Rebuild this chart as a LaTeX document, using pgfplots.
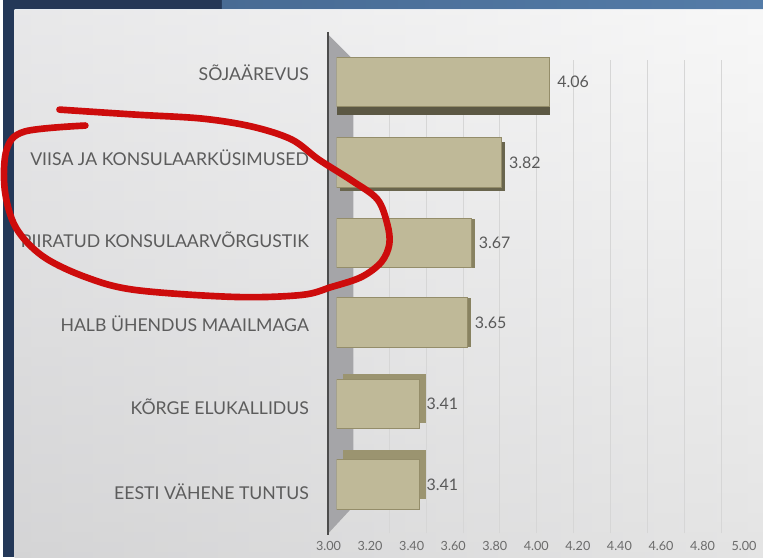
\documentclass[border=0pt]{standalone}
\usepackage{pgfplots}
\pgfplotsset{compat=1.18}
\usepackage{fontspec}
\setmainfont{Lato}
\definecolor{barfront}{RGB}{191,185,152}
\definecolor{barside}{RGB}{136,130,97}
\definecolor{bartop}{RGB}{155,148,112}
\definecolor{bardark}{RGB}{92,88,68}
\definecolor{baredge}{RGB}{148,141,106}
\definecolor{navy}{RGB}{36,56,88}
\definecolor{slateblue}{RGB}{84,124,168}
\definecolor{labelgray}{RGB}{92,92,92}
\definecolor{wallgray}{RGB}{165,165,168}
\definecolor{gridgray}{RGB}{214,214,214}
\definecolor{annored}{RGB}{205,12,12}
\begin{document}
\begin{tikzpicture}
\begin{scope}[x=0.75pt,y=-0.75pt]
\useasboundingbox (0,0) rectangle (763,559);
\fill[navy] (0,0) rectangle (763,559);
\shade[left color=slateblue!75!navy, right color=slateblue] (220,0) rectangle (763,10);
\shade[left color={rgb,255:red,220;green,220;blue,222}, right color={rgb,255:red,244;green,244;blue,244}] (12,10) rectangle (763,559);
\shade[top color=white, bottom color=black!22, opacity=0.35] (12,10) rectangle (763,559);
\draw[white!85!slateblue, line width=0.8pt] (12,10) -- (763,10);
\end{scope}

% back-plane grid
\begin{axis}[at={(263.25pt,-401.25pt)}, anchor=south west, scale only axis,
  width=277.5pt, height=356.25pt, xmin=3, xmax=5, ymin=0, ymax=1,
  xtick={3.2,3.4,3.6,3.8,4.0,4.2,4.4,4.6,4.8,5.0}, ytick=\empty, xticklabels={},
  xmajorgrids, major grid style={gridgray, line width=0.8pt},
  axis line style={draw=none}, tick style={draw=none}]
\end{axis}

\begin{scope}[x=0.75pt,y=-0.75pt]
\fill[wallgray] (327,35) -- (352,60) -- (352,508) -- (327,535) -- cycle;
\draw[black!70, line width=1.5pt] (326,32) -- (326,537);
\end{scope}

% tick labels
\begin{axis}[at={(245.25pt,-399.75pt)}, anchor=south west, scale only axis,
  width=312.75pt, height=50pt, xmin=3, xmax=5, ymin=0, ymax=1,
  xtick={3.0,3.2,3.4,3.6,3.8,4.0,4.2,4.4,4.6,4.8,5.0}, ytick=\empty,
  axis line style={draw=none}, tick style={draw=none},
  xticklabel={\pgfmathprintnumber[fixed,fixed zerofill,precision=2,assume math mode=true]{\tick}},
  xticklabel style={font=\fontsize{9.5}{11}\selectfont, text=black!58, yshift=-4.5pt}]
\end{axis}

% bars
\begin{axis}[at={(251.25pt,-399.6pt)}, anchor=south west, scale only axis,
  width=303pt, height=370.2pt, xmin=3, xmax=5, ymin=-0.6, ymax=5.6, y dir=reverse,
  xbar, bar width=37pt, bar shift=0pt,
  xtick=\empty,
  ytick={-0.176,0.892,1.935,2.99,4.03,5.10},
  yticklabels={SÕJAÄREVUS, VIISA JA KONSULAARKÜSIMUSED, PIIRATUD KONSULAARVÕRGUSTIK, HALB ÜHENDUS MAAILMAGA, KÕRGE ELUKALLIDUS, EESTI VÄHENE TUNTUS},
  yticklabel style={font=\fontsize{13.3}{15}\selectfont, text=labelgray, xshift=-13pt},
  axis line style={draw=none}, tick style={draw=none}]
\addplot[fill=bardark, draw=none, transform canvas={yshift=-6pt}] coordinates {(4.06,-0.057)};
\addplot[fill=bardark!70!barside, draw=none, transform canvas={xshift=2.25pt,yshift=-3pt}] coordinates {(3.82,0.955)};
\addplot[fill=barside, draw=none, transform canvas={xshift=3pt,yshift=-0.75pt}] coordinates {(3.67,1.966)};
\addplot[fill=barside, draw=none, transform canvas={xshift=3pt}] coordinates {(3.65,2.971)};
\addplot[fill=bartop, draw=none, transform canvas={xshift=5pt,yshift=4pt}] coordinates {(3.41,3.995)};
\addplot[fill=bartop, draw=none, transform canvas={xshift=5pt,yshift=7.5pt}] coordinates {(3.41,5.013)};
\addplot[fill=barfront, draw=baredge, line width=0.6pt,
  nodes near coords={\pgfmathprintnumber[fixed,fixed zerofill,precision=2,assume math mode=true]{\pgfplotspointmeta}},
  nodes near coords style={font=\fontsize{12}{14}\selectfont, text=black!65, anchor=west, xshift=2pt}]
  coordinates {(4.06,-0.057) (3.82,0.955) (3.67,1.966) (3.65,2.971) (3.41,3.995) (3.41,5.013)};
\end{axis}

\begin{scope}[x=0.75pt,y=-0.75pt]
\draw[annored, line width=5pt, line cap=round, line join=round]
  plot[smooth, tension=0.55] coordinates {(57,110) (133,115) (200,119) (250,127) (290,140) (317,160) (350,181) (376,200) (386,225) (388,245) (380,263) (360,278) (330,288) (300,296) (233,298) (133,291) (83,278) (40,257) (13,228) (2,190) (4,150) (22,132) (83,126)};
\end{scope}
\end{tikzpicture}
\end{document}
